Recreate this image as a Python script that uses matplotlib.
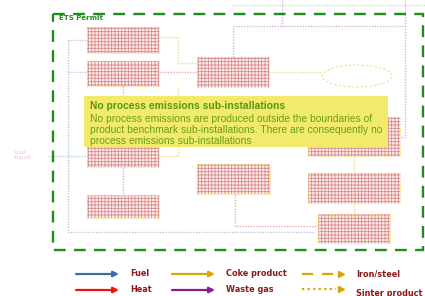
import matplotlib.pyplot as plt
from matplotlib.patches import Rectangle, Ellipse

plt.rcParams['hatch.linewidth'] = 0.6

# sub-installation boxes (x0, y0, x1, y1) in pixel space
box_x0 = [87, 87, 197, 308, 308, 318, 197, 87, 87]
box_y0 = [27, 61, 57, 117, 173, 214, 164, 135, 195]
box_x1 = [159, 159, 269, 400, 400, 390, 270, 159, 159]
box_y1 = [53, 86, 87, 156, 203, 243, 194, 167, 218]

# flows: (colour, polyline x, polyline y)
flow_colors = ['#b8c8e0', '#b8c8e0', '#b8c8e0', '#b8c8e0', '#f0a8a8', '#f0a8a8',
               '#f2dc90', '#f2dc90', '#f2dc90', '#f2dc90', '#f2dc90',
               '#dcb0e0', '#dcb0e0', '#dcb0e0', '#dcb0e0', '#dcb0e0', '#c8e0c0']
flow_x = [[68, 68, 314], [68, 87], [68, 87], [48, 87], [159, 197], [235, 235, 318],
          [159, 178, 178, 197], [159, 178, 178], [269, 322], [354, 354], [354, 354],
          [123, 123], [123, 123], [233, 233, 405, 405, 400], [282, 282], [405, 405],
          [232, 425]]
flow_y = [[40, 232, 232], [40, 40], [72, 72], [156, 156], [72, 72], [194, 226, 226],
          [37, 37, 63, 63], [156, 156, 88], [72, 72], [156, 173], [203, 214],
          [86, 95], [167, 195], [57, 26, 26, 137, 137], [0, 26], [0, 26],
          [5, 5]]

legend_labels = ['Fuel', 'Heat', 'Coke product', 'Waste gas', 'Iron/steel', 'Sinter product']
legend_colors = ['#3a6ea5', '#f01010', '#d4a800', '#8b1a8b', '#d4a800', '#d4a800']
legend_styles = ['-', '-', '-', '-', '--', ':']
legend_x = [76, 76, 172, 172, 302, 302]
legend_y = [274, 290, 274, 290, 274, 289]

title_bold = 'No process emissions sub-installations'
note_text = ('No process emissions are produced outside the boundaries of\n'
             'product benchmark sub-installations. There are consequently no\n'
             'process emissions sub-installations')

fig = plt.figure(figsize=(4.25, 2.96), dpi=100)
ax = fig.add_axes([0, 0, 1, 1])
ax.set_xlim(0, 425)
ax.set_ylim(296, 0)
ax.axis('off')

# flows
for c, xs, ys in zip(flow_colors, flow_x, flow_y):
    ax.plot(xs, ys, color=c, lw=1.0, ls=(0, (1, 1)), zorder=1)

# boxes
for x0, y0, x1, y1 in zip(box_x0, box_y0, box_x1, box_y1):
    ax.add_patch(Rectangle((x0, y0), x1 - x0, y1 - y0, facecolor='#fbeceb',
                           edgecolor='#d88c8c', hatch='+++++', lw=0, zorder=2))
    ax.add_patch(Rectangle((x0, y0), x1 - x0, y1 - y0, facecolor='none',
                           edgecolor='#f4d88a', ls=(0, (1, 1)), lw=0.8, zorder=3))

ax.add_patch(Ellipse((357, 76), 70, 22, facecolor='none', edgecolor='#f2dc90',
                     ls=(0, (2, 2)), lw=0.8, zorder=2))

# faint external label
ax.text(14, 155, 'Coal\nimport', color='#f0c4c4', fontsize=4, va='center', ha='left')

# ETS permit boundary
ax.add_patch(Rectangle((53, 14), 370, 236, facecolor='none', edgecolor='#1e8c1e',
                       lw=1.7, ls=(0, (5, 3.5)), zorder=4))
ax.text(59, 18, 'ETS Permit', color='#1e8c1e', fontsize=5, fontweight='bold',
        va='center', ha='left')

# note box
ax.add_patch(Rectangle((84, 96), 304, 51, facecolor='#f2ea6a', edgecolor='none', zorder=5))
ax.text(90, 106, title_bold, color='#5a9414', fontsize=7.4, fontweight='bold',
        va='center', ha='left', zorder=6, family='Liberation Sans')
ax.text(90, 130, note_text, color='#6a9e1e', fontsize=7.4, va='center', ha='left',
        zorder=6, family='Liberation Sans', linespacing=1.13)

# legend
for lab, c, s, x, y in zip(legend_labels, legend_colors, legend_styles, legend_x, legend_y):
    if s == '-':
        ax.annotate('', xy=(x + 43, y), xytext=(x, y),
                    arrowprops=dict(arrowstyle='-|>', color=c, lw=1.6,
                                    mutation_scale=8, shrinkA=0, shrinkB=0))
    else:
        ax.plot([x, x + 34], [y, y], color=c, lw=1.6,
                ls=(0, (5, 4)) if s == '--' else (0, (1, 1.5)))
        ax.plot([x + 39], [y], marker='>', color=c, ms=5)
    ty = y + 4 if lab == 'Sinter product' else y
    ax.text(x + 54, ty, lab, color='#8b1a1a', fontsize=5.9, fontweight='bold',
            va='center', ha='left', family='DejaVu Sans')

fig.savefig('out.png', dpi=100)
